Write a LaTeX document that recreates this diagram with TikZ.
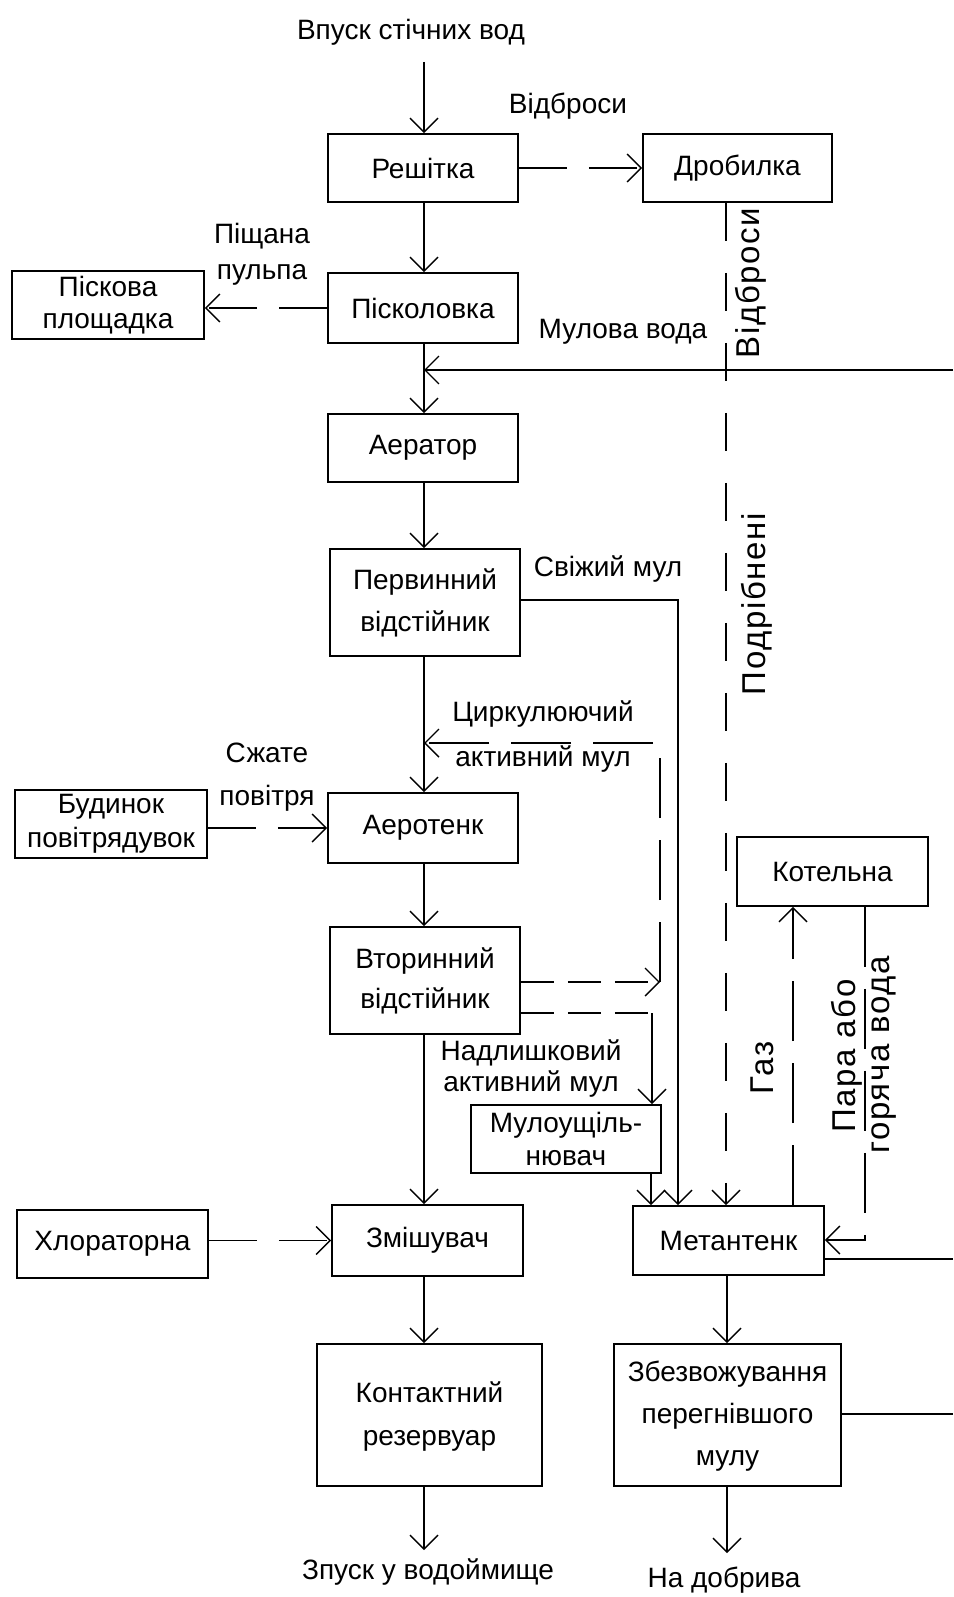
\documentclass[tikz,border=0pt]{standalone}
\usepackage{fontspec}
\setmainfont{Liberation Sans}
\usetikzlibrary{arrows.meta}
\begin{document}
\begin{tikzpicture}[x=1pt,y=-1pt,
  box/.style={draw, line width=1.8pt, inner sep=0pt, align=center, font=\fontsize{28}{42}\selectfont},
  lbl/.style={inner sep=0pt, align=center, font=\fontsize{28}{36}\selectfont},
  rlbl/.style={inner sep=0pt, rotate=90, font=\fontsize{33}{40}\selectfont\addfontfeature{LetterSpace=5}},
  con/.style={line width=1.4pt},
  arr/.style={con, -{Straight Barb[length=14pt,width=28pt]}},
  sdash/.style={dash pattern=on 48pt off 22pt},
  mdash/.style={dash pattern=on 33pt off 14pt},
  vdash/.style={dash pattern=on 38pt off 32pt},
  ldash/.style={dash pattern=on 60pt off 22pt},
]
\useasboundingbox (0,0) rectangle (953,1597);
\fill[white] (0,0) rectangle (953,1597);

% boxes
\node[box, minimum width=190pt, minimum height=68pt] (resh) at (423,168) {Решітка};
\node[box, minimum width=189pt, minimum height=68pt] (drob) at (737.5,168) {Дробилка};
\node[box, minimum width=190pt, minimum height=70pt] (piskol) at (423,308) {Пісколовка};
\node[box, minimum width=192pt, minimum height=68pt, font=\fontsize{28}{32}\selectfont] (piskpl) at (108,305) {Піскова\\площадка};
\node[box, minimum width=190pt, minimum height=68pt] (aer) at (423,448) {Аератор};
\node[box, minimum width=190pt, minimum height=107pt] (perv) at (425,602.5) {Первинний\\відстійник};
\node[box, minimum width=192pt, minimum height=68pt, font=\fontsize{28}{34}\selectfont] (bud) at (111,824) {Будинок\\повітрядувок};
\node[box, minimum width=190pt, minimum height=70pt] (aerot) at (423,828) {Аеротенк};
\node[box, minimum width=190pt, minimum height=107pt, font=\fontsize{28}{40}\selectfont] (vtor) at (425,980.5) {Вторинний\\відстійник};
\node[box, minimum width=191pt, minimum height=69pt] (kot) at (832.5,871.5) {Котельна};
\node[box, minimum width=190pt, minimum height=68pt, font=\fontsize{28}{33}\selectfont] (mulo) at (566,1139) {Мулоущіль-\\нювач};
\node[box, minimum width=191pt, minimum height=68pt] (khlor) at (112.5,1244) {Хлораторна};
\node[box, minimum width=191pt, minimum height=71pt] (zmish) at (427.5,1240.5) {Змішувач};
\node[box, minimum width=191pt, minimum height=69pt] (metan) at (728.5,1240.5) {Метантенк};
\node[box, minimum width=225pt, minimum height=142pt, font=\fontsize{28}{43}\selectfont] (kont) at (429.5,1415) {\raisebox{9pt}{\begin{tabular}{@{}c@{}}Контактний\\резервуар\end{tabular}}};
\node[box, minimum width=227pt, minimum height=142pt] (zbezv) at (727.5,1415) {\raisebox{-5pt}{\begin{tabular}{@{}c@{}}Збезвожування\\перегнівшого\\мулу\end{tabular}}};

% coordinates
\coordinate (xm) at (424,0);
\coordinate (in) at (424,62);
\coordinate (xd) at (726,0);
\coordinate (mv) at (953,370);
\coordinate (sv) at (678,600);
\coordinate (ca) at (660,743);
\coordinate (cb) at (660,982);
\coordinate (cm) at (652,1013);
\coordinate (xu) at (651,0);
\coordinate (xg) at (793,0);
\coordinate (pv) at (865,1240);
\coordinate (mo) at (953,1259);
\coordinate (zx) at (727,0);
\coordinate (zo) at (953,1414);
\coordinate (out1) at (424,1550);
\coordinate (out2) at (727,1553);

% connectors
\draw[arr] (in) -- (resh.north -| xm);
\draw[arr,sdash] (resh.east) -- (drob.west);
\draw[arr] (resh.south -| xm) -- (piskol.north -| xm);
\draw[arr,sdash] (piskol.west) -- (piskpl.east |- piskol.west);
\draw[arr,vdash] (drob.south -| xd) -- (metan.north -| xd);
\draw[arr] (mv) -- (mv -| xm);
\draw[arr] (piskol.south -| xm) -- (aer.north -| xm);
\draw[arr] (aer.south -| xm) -- (perv.north -| xm);
\draw[arr] (perv.east |- sv) -- (sv) -- (metan.north -| sv);
\draw[arr] (perv.south -| xm) -- (aerot.north -| xm);
\draw[arr,ldash] (cb) -- (ca) -- (ca -| xm);
\draw[arr,sdash] (bud.east |- aerot.west) -- (aerot.west);
\draw[arr] (aerot.south -| xm) -- (vtor.north -| xm);
\draw[arr,mdash] (vtor.east |- cb) -- (cb);
\draw[con,mdash] (vtor.east |- cm) -- (cm);
\draw[arr] (cm) -- (mulo.north -| cm);
\draw[arr] (mulo.south -| xu) -- (metan.north -| xu);
\draw[arr] (vtor.south -| xm) -- (zmish.north -| xm);
\draw[arr,sdash] (khlor.east |- zmish.west) -- (zmish.west);
\draw[arr,ldash] (metan.north -| xg) -- (kot.south -| xg);
\draw[arr,ldash] (kot.south -| pv) -- (pv) -- (metan.east |- pv);
\draw[con] (metan.east |- mo) -- (mo);
\draw[arr] (metan.south -| zx) -- (zbezv.north -| zx);
\draw[con] (zbezv.east |- zo) -- (zo);
\draw[arr] (zmish.south -| xm) -- (kont.north -| xm);
\draw[arr] (kont.south -| xm) -- (out1);
\draw[arr] (zbezv.south -| out2) -- (out2);

% labels
\node[lbl] (tin) at (411,32) {Впуск стічних вод};
\node[lbl] (tvidb) at (568,106) {Відброси};
\node[rlbl] (tvidbr) at (751,283) {Відброси};
\node[lbl] (tpisch) at (262,254) {Піщана\\пульпа};
\node[lbl] (tmv) at (623,332) {Мулова вода};
\node[lbl] (tsv) at (608,569) {Свіжий мул};
\node[rlbl] (tpodr) at (757,604) {Подрібнені};
\node[lbl, font=\fontsize{28}{45}\selectfont] (tcirk) at (543,737) {Циркулюючий\\активний мул};
\node[lbl, font=\fontsize{28}{43}\selectfont] (tszh) at (267,777) {Сжате\\повітря};
\node[lbl, font=\fontsize{28}{31}\selectfont] (tnadl) at (531,1069) {Надлишковий\\активний мул};
\node[rlbl] (tgaz) at (762,1068) {Газ};
\node[rlbl] (tpara) at (847,1056) {Пара або};
\node[rlbl] (tgor) at (884,1055) {горяча вода};
\node[lbl] (tout1) at (428,1572) {Зпуск у водоймище};
\node[lbl] (tout2) at (724,1580) {На добрива};
\end{tikzpicture}
\end{document}
